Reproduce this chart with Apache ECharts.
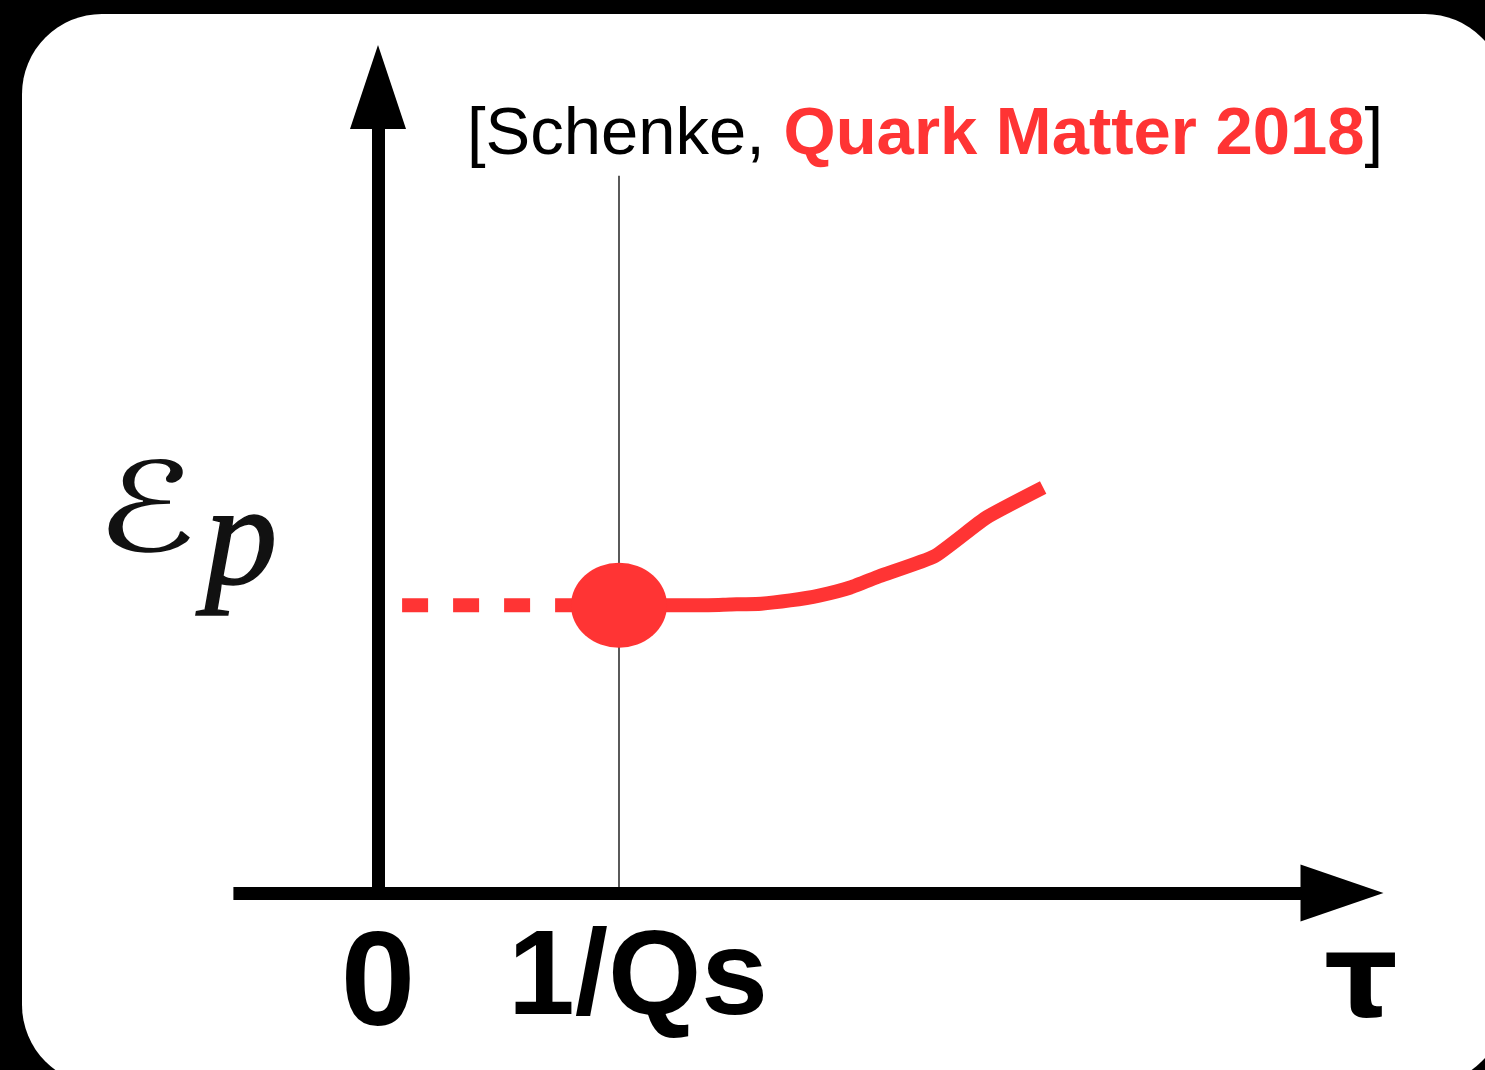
<!DOCTYPE html>
<html>
<head>
<meta charset="utf-8">
<title>Pressure anisotropy vs proper time</title>
<script src="https://cdn.jsdelivr.net/npm/echarts@6/dist/echarts.min.js"></script>
<style>
  html, body { margin: 0; padding: 0; background: #000; }
  #chart { width: 1485px; height: 1070px; }
</style>
</head>
<body>
<div id="chart"></div>
<script>
// Sketch: eccentricity of the pressure (eps_p) versus proper time tau.
// Before tau = 1/Qs the value is frozen (dashed), afterwards it grows.

const RED = '#ff3434';

// Pre-equilibrium segment (dashed, constant)
const preTau = [0.1, 1];
const preEps = [3.57, 3.57];

// Evolution after 1/Qs (solid)
const postTau = [1, 1.34, 1.46, 1.59, 1.71, 1.83, 1.96, 2.08, 2.31, 2.52, 2.76];
const postEps = [3.57, 3.57, 3.58, 3.59, 3.63, 3.69, 3.79, 3.93, 4.18, 4.65, 5.03];

// Initial condition marker at tau = 1/Qs
const startTau = [1];
const startEps = [3.57];

// Reference line at tau = 1/Qs
const qsLineTau = [1, 1];
const qsLineEps = [0, 8.9];

// Axis tick labels
const tickValues = [0, 1];
const tickLabels = ['0', '1/Qs'];

// Citation text
const citeAuthor = '[Schenke, ';
const citeEvent = 'Quark Matter 2018';
const citeClose = ']';

const zip = (xs, ys) => xs.map((x, i) => [x, ys[i]]);

const chart = echarts.init(document.getElementById('chart'), null, { renderer: 'canvas' });

const SANS = '"Liberation Sans", Arial, sans-serif';

chart.setOption({
  animation: false,
  backgroundColor: '#000',
  title: {
    left: 467,
    top: 102,
    padding: 0,
    text: '{k|' + citeAuthor + '}{r|' + citeEvent + '}{k|' + citeClose + '}',
    textStyle: {
      rich: {
        k: { fontFamily: SANS, fontSize: 67, lineHeight: 67, color: '#000', fontWeight: 'normal' },
        r: { fontFamily: SANS, fontSize: 67, lineHeight: 67, color: RED, fontWeight: 'bold' }
      }
    }
  },
  graphic: [
    {
      type: 'rect',
      z: -100,
      shape: { x: 22, y: 14, width: 1483, height: 1071, r: 80 },
      style: { fill: '#fff' },
      silent: true
    },
    {
      type: 'text',
      z: 10,
      x: 146,
      y: 519,
      scaleX: 1.35,
      style: {
        x: 0, y: 0,
        text: '\u2130',
        font: 'normal 124px "DejaVu Serif", "DejaVu Sans", serif',
        fill: '#111',
        align: 'center',
        verticalAlign: 'middle'
      }
    },
    {
      type: 'text',
      z: 10,
      style: {
        x: 241, y: 546,
        text: 'p',
        font: 'italic 146px "Liberation Serif", "DejaVu Serif", serif',
        fill: '#111',
        stroke: '#111',
        lineWidth: 1.5,
        align: 'center',
        verticalAlign: 'middle'
      }
    },
    {
      type: 'text',
      z: 10,
      style: {
        x: 1361, y: 986,
        text: '\u03C4',
        font: 'bold 116px "DejaVu Sans", sans-serif',
        fill: '#000',
        align: 'center',
        verticalAlign: 'middle'
      }
    }
  ],
  grid: {
    left: 233.4,
    right: 143,
    top: 87,
    bottom: 177,
    containLabel: false
  },
  xAxis: {
    type: 'value',
    min: -0.6,
    max: 4,
    splitLine: { show: false },
    axisTick: { show: false },
    axisLine: {
      show: true,
      onZero: true,
      symbol: ['none', 'triangle'],
      symbolSize: [57, 83],
      lineStyle: { color: '#000', width: 13, cap: 'butt' }
    },
    axisLabel: {
      show: true,
      customValues: tickValues,
      margin: 28,
      formatter: (v) => {
        const i = tickValues.indexOf(v);
        const t = i >= 0 ? tickLabels[i] : '';
        return i === 0 ? '{a|' + t + '}' : '{b|' + t + '}';
      },
      rich: {
        a: { fontFamily: SANS, fontWeight: 'bold', fontSize: 134, lineHeight: 134, color: '#000' },
        b: { fontFamily: SANS, fontWeight: 'bold', fontSize: 120, lineHeight: 120, color: '#000', padding: [0, 0, 0, 38] }
      }
    }
  },
  yAxis: {
    type: 'value',
    min: 0,
    max: 10,
    splitLine: { show: false },
    axisTick: { show: false },
    axisLabel: { show: false },
    axisLine: {
      show: true,
      onZero: true,
      symbol: ['none', 'triangle'],
      symbolSize: [56, 84],
      lineStyle: { color: '#000', width: 13, cap: 'butt' }
    }
  },
  series: [
    {
      name: '1/Qs',
      type: 'line',
      z: 1,
      silent: true,
      symbol: 'none',
      data: zip(qsLineTau, qsLineEps),
      lineStyle: { color: '#000', width: 1.3 }
    },
    {
      name: 'pre-equilibrium',
      type: 'line',
      z: 3,
      silent: true,
      symbol: 'none',
      data: zip(preTau, preEps),
      lineStyle: { color: RED, width: 14, type: [26, 25], cap: 'butt' }
    },
    {
      name: 'evolution',
      type: 'line',
      z: 3,
      silent: true,
      symbol: 'none',
      smooth: 0.15,
      data: zip(postTau, postEps),
      lineStyle: { color: RED, width: 14, cap: 'butt', join: 'round' }
    },
    {
      name: 'initial',
      type: 'scatter',
      z: 5,
      silent: true,
      symbol: 'path://M0,50 A50,50 0 1,1 100,50 A50,50 0 1,1 0,50 Z',
      symbolSize: [96, 85],
      itemStyle: { color: RED, opacity: 1 },
      data: zip(startTau, startEps)
    }
  ]
});
</script>
</body>
</html>
